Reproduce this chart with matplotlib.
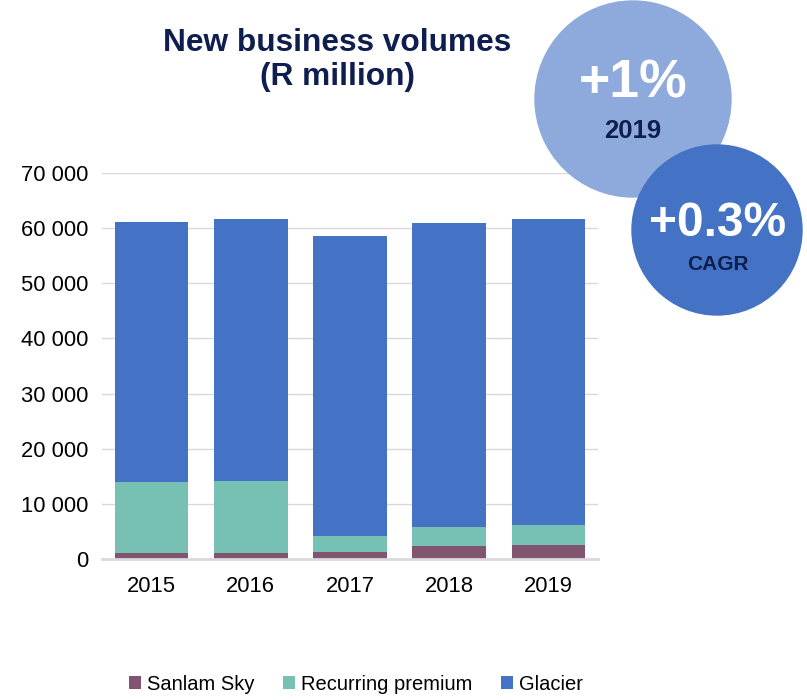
import matplotlib.pyplot as plt
from matplotlib.patches import Circle
import numpy as np

plt.rcParams['font.family'] = ['Liberation Sans', 'DejaVu Sans']

years = ['2015', '2016', '2017', '2018', '2019']
sanlam_sky = [1150, 1150, 1300, 2400, 2600]
recurring = [12850, 13000, 2850, 3400, 3550]
glacier = [47100, 47550, 54450, 55100, 55550]

c_sky = '#81546F'
c_rec = '#76C1B4'
c_gla = '#4472C4'
navy = '#0E1E4E'

fig = plt.figure(figsize=(8.07, 7.0), dpi=100)
ax = fig.add_axes([102/807, 1 - 559/700, 496/807, 386/700])

x = np.arange(len(years))
w = 0.74
b1 = np.array(sanlam_sky)
b2 = b1 + np.array(recurring)
ax.bar(x, sanlam_sky, w, color=c_sky, label='Sanlam Sky', zorder=3)
ax.bar(x, recurring, w, bottom=b1, color=c_rec, label='Recurring premium', zorder=3)
ax.bar(x, glacier, w, bottom=b2, color=c_gla, label='Glacier', zorder=3)

ax.set_xlim(-0.5, 4.5)
ax.set_ylim(0, 70000)
ax.set_yticks(range(0, 70001, 10000))
ax.set_yticklabels([f'{v:,}'.replace(',', ' ') for v in range(0, 70001, 10000)])
ax.set_xticks(x)
ax.set_xticklabels(years)
ax.tick_params(length=0, labelsize=15.8, colors='#000000')
ax.tick_params(axis='y', pad=10)
ax.tick_params(axis='x', pad=12)
ax.grid(axis='y', color='#D9D9D9', linewidth=1, zorder=0)
for s in ['top', 'right', 'left']:
    ax.spines[s].set_visible(False)
ax.spines['bottom'].set_color('#D9D9D9')
ax.spines['bottom'].set_linewidth(2)
ax.spines['bottom'].set_zorder(4)

fig.text(337/807, 1 - 60/700, 'New business volumes\n(R million)', ha='center', va='center',
         fontsize=22.8, fontweight='bold', color=navy, linespacing=1.2)

fig.legend(loc='center', bbox_to_anchor=(356/807, 1 - 684/700), ncol=3, frameon=False,
           fontsize=14.5, handlelength=0.6, handleheight=0.6, handletextpad=0.3,
           columnspacing=1.4)

# growth bubbles
ov = fig.add_axes([0, 0, 1, 1])
ov.set_xlim(0, 807)
ov.set_ylim(700, 0)
ov.set_aspect('equal')
ov.axis('off')
ov.add_patch(Circle((633, 99), 98, color='#8EA9DB', zorder=1))
ov.add_patch(Circle((717, 230), 85, color='#4472C4', zorder=2))
ov.text(633, 84, '+1%', ha='center', va='center', fontsize=38.5, fontweight='bold', color='white', zorder=3)
ov.text(633, 131, '2019', ha='center', va='center', fontsize=18.5, fontweight='bold', color=navy, zorder=3)
ov.text(718, 224, '+0.3%', ha='center', va='center', fontsize=34.5, fontweight='bold', color='white', zorder=3)
ov.text(718, 264, 'CAGR', ha='center', va='center', fontsize=15, fontweight='bold', color=navy, zorder=3)

fig.savefig('out.png', dpi=100)
